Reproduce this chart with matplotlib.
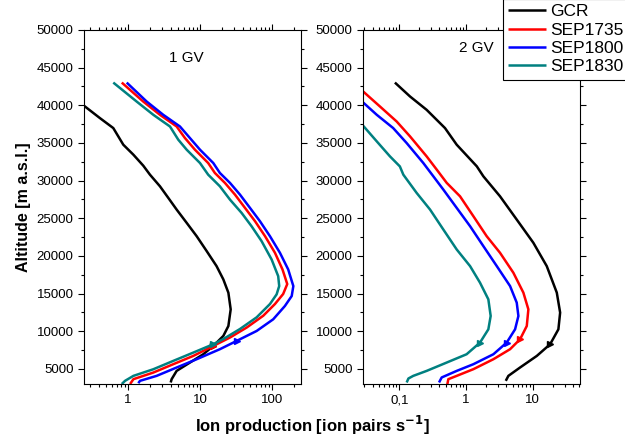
import numpy as np
import matplotlib
matplotlib.use("Agg")
from matplotlib import pyplot as plt
from matplotlib.ticker import FixedLocator, FixedFormatter, LogLocator, NullFormatter, MultipleLocator

plt.rcParams['font.family'] = ['Liberation Sans', 'DejaVu Sans']

# 1 GV panel: altitude [m] and ion production
gcr_1gv_alt = [43000, 41500, 39840, 38300, 36980, 34770, 33440, 31990, 30790, 29250, 27710, 26160, 24400,
               22620, 20640, 18650, 16890, 15120, 12910, 10700, 9380, 8050, 6950, 5850, 4740, 3640, 3200]
gcr_1gv = [0.09, 0.15, 0.253, 0.408, 0.625, 0.861, 1.19, 1.63, 2.02, 2.78, 3.63, 4.74, 6.53,
           9.0, 12.4, 17.0, 21.1, 24.8, 26.7, 24.8, 21.1, 15.3, 11.1, 7.26, 4.74, 4.04, 3.92]

s1735_1gv_alt = [43020, 40500, 38740, 37190, 35650, 34110, 32340, 31020, 29700, 28150, 26380, 24610, 22620,
                 20420, 18210, 16270, 14950, 13620, 12060, 10500, 9170, 8050, 6730, 5630, 4520, 3640, 3000]
s1735_1gv = [0.82, 1.63, 2.78, 4.74, 6.19, 8.51, 13.0, 16.1, 22.2, 30.6, 42.2, 58.2, 80.2,
             110, 140, 163, 143, 110, 75.6, 44.6, 26.1, 15.3, 8.07, 4.26, 2.25, 1.19, 1.07]

s1800_1gv_alt = [43020, 40500, 38740, 37190, 35650, 34110, 32340, 31020, 29700, 28150, 26380, 24610, 22620,
                 20420, 18210, 16000, 14680, 13350, 11590, 10040, 8720, 7620, 6290, 5190, 4080, 3420, 3110]
s1800_1gv = [0.96, 1.82, 3.09, 5.27, 7.26, 10.0, 15.3, 18.9, 26.1, 35.9, 49.5, 68.1, 93.8,
             129, 168, 198, 188, 151, 104, 61.2, 32.3, 18.9, 9.0, 4.74, 2.5, 1.47, 1.39]

s1830_1gv_alt = [43020, 40500, 38740, 37190, 35430, 34110, 32340, 30790, 29250, 27480, 25710, 23940, 21960,
                 19530, 17320, 16000, 14900, 13620, 11850, 10300, 8970, 8280, 7170, 6070, 4960, 4080, 3420, 3000]
s1830_1gv = [0.625, 1.32, 2.25, 3.83, 5.0, 6.53, 10.0, 13.0, 18.9, 26.1, 37.9, 52.1, 71.8,
             98.9, 122, 126, 116, 93.8, 61.2, 35.9, 21.1, 15.3, 8.07, 4.26, 2.25, 1.19, 0.91, 0.82]

# 2 GV panel
gcr_2gv_alt = [43020, 41170, 39400, 36980, 34770, 31900, 30570, 27920, 24830, 21750, 18650, 15130,
               12480, 10260, 8280, 6730, 5190, 4080, 3420]
gcr_2gv = [0.086, 0.145, 0.257, 0.484, 0.725, 1.45, 1.82, 3.23, 5.75, 10.2, 16.2, 22.9,
           25.7, 24.2, 18.2, 11.5, 6.45, 4.31, 3.94]

s1735_2gv_alt = [43000, 41830, 39840, 37850, 35870, 33220, 31460, 29700, 27920, 25270, 22620, 20420, 17770,
                 15130, 12910, 10700, 8940, 7620, 6290, 4970, 4080, 3640, 2980]
s1735_2gv = [0.018, 0.0288, 0.0514, 0.0914, 0.145, 0.257, 0.364, 0.514, 0.813, 1.29, 2.04, 3.23, 5.12,
             7.23, 8.59, 8.13, 6.45, 4.57, 2.57, 1.29, 0.725, 0.543, 0.525]

s1800_2gv_alt = [43000, 40370, 38740, 36980, 34990, 32340, 30570, 28810, 26380, 23950, 21300, 18650, 16000,
                 13800, 12030, 10260, 8500, 6950, 5630, 4740, 3870, 3200]
s1800_2gv = [0.012, 0.0288, 0.046, 0.081, 0.129, 0.229, 0.324, 0.457, 0.725, 1.15, 1.82, 2.89, 4.57,
             5.75, 6.09, 5.43, 4.07, 2.57, 1.29, 0.725, 0.432, 0.394]

s1830_2gv_alt = [43000, 37280, 35210, 33220, 31890, 30790, 28370, 26160, 23510, 20860, 18650, 16450, 14240,
                 12030, 10260, 8500, 6950, 5850, 4740, 4080, 3730, 3200]
s1830_2gv = [0.006, 0.0288, 0.046, 0.0725, 0.102, 0.115, 0.182, 0.289, 0.457, 0.725, 1.15, 1.62, 2.16,
             2.34, 2.16, 1.62, 1.02, 0.514, 0.257, 0.162, 0.137, 0.129]

names = ['GCR', 'SEP1735', 'SEP1800', 'SEP1830']
colors = ['black', '#ff0000', '#0000ff', '#008080']

panel_1gv = [(gcr_1gv, gcr_1gv_alt), (s1735_1gv, s1735_1gv_alt), (s1800_1gv, s1800_1gv_alt), (s1830_1gv, s1830_1gv_alt)]
panel_2gv = [(gcr_2gv, gcr_2gv_alt), (s1735_2gv, s1735_2gv_alt), (s1800_2gv, s1800_2gv_alt), (s1830_2gv, s1830_2gv_alt)]

fig = plt.figure(figsize=(6.25, 4.42), dpi=100)
ax1 = fig.add_axes([84 / 625, 1 - 384 / 442, 217 / 625, 354 / 442])
ax2 = fig.add_axes([363 / 625, 1 - 384 / 442, 217 / 625, 354 / 442])

for ax, data in [(ax1, panel_1gv), (ax2, panel_2gv)]:
    for (x, y), name, c in zip(data, names, colors):
        ax.plot(x, y, color=c, lw=1.8, label=name, solid_capstyle='butt')
        # small arrowhead near 8300 m, like in the original
        i = int(np.argmin(np.abs(np.array(y) - 8300)))
        ax.plot(x[i], y[i], marker='>', ms=4, color=c)
    ax.set_xscale('log')
    ax.set_ylim(3000, 50000)
    ax.yaxis.set_major_locator(MultipleLocator(5000))
    ax.yaxis.set_minor_locator(MultipleLocator(2500))
    ax.xaxis.set_minor_locator(LogLocator(base=10, subs=np.arange(2, 10), numticks=20))
    ax.xaxis.set_minor_formatter(NullFormatter())
    ax.tick_params(which='both', direction='out', top=True, right=True, labelsize=9.5, width=0.8)
    ax.tick_params(which='major', length=4)
    ax.tick_params(which='minor', length=2.5)
    for s in ax.spines.values():
        s.set_linewidth(0.8)

ax1.set_xlim(0.245, 253)
ax1.xaxis.set_major_locator(FixedLocator([1, 10, 100]))
ax1.xaxis.set_major_formatter(FixedFormatter(['1', '10', '100']))
ax2.set_xlim(0.0286, 51)
ax2.xaxis.set_major_locator(FixedLocator([0.1, 1, 10]))
ax2.xaxis.set_major_formatter(FixedFormatter(['0,1', '1', '10']))

ax1.text(0.47, 0.92, '1 GV', transform=ax1.transAxes, ha='center', va='center', fontsize=11)
ax2.text(0.52, 0.95, '2 GV', transform=ax2.transAxes, ha='center', va='center', fontsize=11)

ax1.set_ylabel('Altitude [m a.s.l.]', fontsize=11.5, fontweight='bold', labelpad=4)
fig.text(0.5, 0.038, 'Ion production [ion pairs s$^{\\mathbf{-1}}$]', ha='center', va='center',
         fontsize=12, fontweight='bold')

handles, labels = ax1.get_legend_handles_labels()
leg = fig.legend(handles, labels, loc='upper left', bbox_to_anchor=(503 / 625, 1.002), fontsize=12.5,
                 frameon=True, fancybox=False, edgecolor='black', framealpha=1, borderaxespad=0,
                 borderpad=0.3, handlelength=2.2, handletextpad=0.2, labelspacing=0.18)
leg.get_frame().set_linewidth(0.8)

plt.savefig('out.png', dpi=100)
